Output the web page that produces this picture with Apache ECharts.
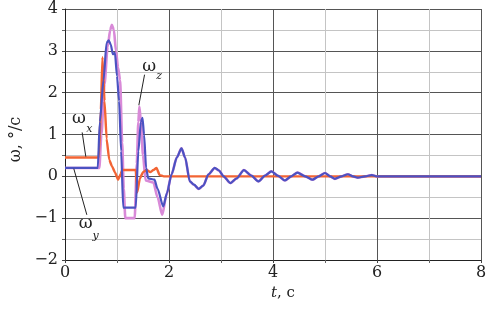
<!DOCTYPE html>
<html><head><meta charset="utf-8">
<script src="https://cdn.jsdelivr.net/npm/echarts@6/dist/echarts.min.js"></script>
<style>html,body{margin:0;padding:0;background:#fff}#c{width:493px;height:309px}</style>
</head><body><div id="c"></div>
<script>
// ---- data ----
const tX = [0, 0.65, 0.69, 0.72, 0.76, 0.8, 0.85, 0.9, 0.96, 1.02, 1.07, 1.1, 1.36, 1.39, 1.44, 1.5, 1.57, 1.64, 1.7, 1.76, 1.82, 1.9, 8];
const vX = [0.45, 0.45, 1.6, 2.85, 1.8, 0.9, 0.4, 0.25, 0.1, -0.08, 0.05, 0.15, 0.15, -0.38, -0.05, 0.1, 0.15, 0.1, 0.15, 0.2, 0.03, 0, 0];

const tY = [0, 0.63, 0.67, 0.74, 0.8, 0.84, 0.88, 0.92, 0.96, 1.0, 1.04, 1.08, 1.12, 1.36, 1.41, 1.46, 1.49, 1.52, 1.56, 1.6, 1.72, 1.78, 1.89, 1.96, 2.05, 2.15, 2.24, 2.31, 2.4, 2.48, 2.57, 2.66, 2.76, 2.88, 2.96, 3.05, 3.18, 3.3, 3.44, 3.58, 3.72, 3.85, 3.97, 4.1, 4.23, 4.35, 4.47, 4.62, 4.76, 4.88, 5.0, 5.1, 5.19, 5.32, 5.44, 5.54, 5.63, 5.77, 5.9, 6.0, 8];
const vY = [0.2, 0.2, 1.3, 2.3, 3.19, 3.25, 3.15, 2.92, 2.95, 2.4, 1.8, 0.6, -0.75, -0.75, 0.6, 1.3, 1.4, 1.0, 0.2, -0.05, -0.08, -0.3, -0.72, -0.4, 0.05, 0.45, 0.67, 0.45, -0.12, -0.2, -0.3, -0.22, 0.05, 0.2, 0.14, 0.0, -0.16, -0.05, 0.15, 0.02, -0.12, 0.02, 0.12, 0.01, -0.1, 0.0, 0.09, 0.0, -0.08, 0.0, 0.08, 0.0, -0.06, 0.0, 0.05, 0.0, -0.03, 0.0, 0.03, 0.0, 0];

const tZ = [0, 0.66, 0.7, 0.76, 0.82, 0.87, 0.9, 0.94, 0.98, 1.02, 1.06, 1.1, 1.13, 1.16, 1.34, 1.38, 1.41, 1.43, 1.46, 1.5, 1.55, 1.7, 1.78, 1.87, 1.95, 2.05, 2.15, 2.24, 2.31, 2.4, 2.48, 2.57, 2.66, 2.76, 2.88, 2.96, 3.05, 3.18, 3.3, 3.44, 3.58, 3.72, 3.85, 3.97, 4.1, 4.23, 4.35, 4.47, 4.62, 4.76, 4.88, 5.0, 5.1, 5.19, 5.32, 5.44, 5.54, 5.63, 5.77, 5.9, 6.0, 8];
const vZ = [0.2, 0.2, 1.0, 2.2, 3.1, 3.5, 3.62, 3.5, 3.0, 2.6, 2.3, 0.8, -0.3, -1.0, -1.0, 0.3, 1.3, 1.67, 1.3, 0.5, -0.1, -0.15, -0.5, -0.92, -0.45, 0.05, 0.45, 0.67, 0.45, -0.12, -0.2, -0.3, -0.22, 0.05, 0.2, 0.14, 0.0, -0.16, -0.05, 0.15, 0.02, -0.12, 0.02, 0.12, 0.01, -0.1, 0.0, 0.09, 0.0, -0.08, 0.0, 0.08, 0.0, -0.06, 0.0, 0.05, 0.0, -0.03, 0.0, 0.03, 0.0, 0];

const xLimits = [0, 8];
const yLimits = [-2, 4];

// annotation anchors (data space): [label ω, subscript, leader start, leader end]
const annots = [
  { sub: 'x', w: [0.27, 1.37], s: [0.47, 1.13], a: [0.33, 1.05], b: [0.40, 0.47] },
  { sub: 'y', w: [0.40, -1.14], s: [0.59, -1.42], a: [0.42, -0.92], b: [0.17, 0.18] },
  { sub: 'z', w: [1.62, 2.62], s: [1.81, 2.40], a: [1.53, 2.43], b: [1.42, 1.70] }
];

const pairs = (t, v) => t.map((x, i) => [x, v[i]]);
const serif = '"DejaVu Serif", "Liberation Serif", serif';

const chart = echarts.init(document.getElementById('c'));
const option = {
  animation: false,
  backgroundColor: '#fff',
  grid: { left: 65, right: 12, top: 9, bottom: 49, containLabel: false, outerBoundsMode: 'none' },
  xAxis: {
    type: 'value', min: xLimits[0], max: xLimits[1], interval: 2,
    axisLine: { show: true, onZero: false, lineStyle: { color: '#222', width: 1 } },
    axisTick: { show: true, length: 3, lineStyle: { color: '#444' } },
    minorTick: { show: true, splitNumber: 2, length: 3, lineStyle: { color: '#666' } },
    splitLine: { show: true, lineStyle: { color: '#555', width: 1 } },
    minorSplitLine: { show: true, lineStyle: { color: '#c4c4c4', width: 1 } },
    axisLabel: { fontFamily: serif, fontSize: 16, color: '#222', margin: 5 },
    name: '{i|t}, c', nameLocation: 'middle', nameGap: 25,
    nameTextStyle: { fontFamily: serif, fontSize: 15, color: '#222', padding: [0, 0, 0, 20],
      rich: { i: { fontFamily: serif, fontStyle: 'italic', fontSize: 15, color: '#222' } } }
  },
  yAxis: {
    type: 'value', min: yLimits[0], max: yLimits[1], interval: 1,
    axisLine: { show: true, onZero: false, lineStyle: { color: '#222', width: 1 } },
    axisTick: { show: true, length: 3, lineStyle: { color: '#444' } },
    minorTick: { show: true, splitNumber: 2, length: 3, lineStyle: { color: '#666' } },
    splitLine: { show: true, lineStyle: { color: '#555', width: 1 } },
    minorSplitLine: { show: true, lineStyle: { color: '#c4c4c4', width: 1 } },
    axisLabel: { fontFamily: serif, fontSize: 16, color: '#222', margin: 7,
      formatter: v => v < 0 ? '\u2212' + Math.abs(v) : String(v) },
    name: 'ω, °/c', nameLocation: 'middle', nameGap: 38, nameRotate: 90,
    nameTextStyle: { fontFamily: serif, fontSize: 16, color: '#222', padding: [0, 10, 0, 0] }
  },
  series: [
    { name: 'ωz', type: 'line', data: pairs(tZ, vZ), showSymbol: false, smooth: 0.25, smoothMonotone: 'x',
      lineStyle: { color: '#d98ad8', width: 2.6 }, z: 2 },
    { name: 'ωx', type: 'line', data: pairs(tX, vX), showSymbol: false, smooth: 0.15, smoothMonotone: 'x',
      lineStyle: { color: '#f26434', width: 2.4 }, z: 3 },
    { name: 'ωy', type: 'line', data: pairs(tY, vY), showSymbol: false, smooth: 0.25, smoothMonotone: 'x',
      lineStyle: { color: '#4b52c2', width: 2.2 }, z: 4 }
  ]
};
chart.setOption(option);

const px = p => chart.convertToPixel({ gridIndex: 0 }, p);
const g = [];
annots.forEach(a => {
  const w = px(a.w), s = px(a.s), p1 = px(a.a), p2 = px(a.b);
  g.push({ type: 'line', shape: { x1: p1[0], y1: p1[1], x2: p2[0], y2: p2[1] },
    style: { stroke: '#222', lineWidth: 1 }, z: 100 });
  g.push({ type: 'text', x: w[0], y: w[1], z: 100,
    style: { text: 'ω', fontFamily: serif, fontSize: 17, fill: '#222', align: 'center', verticalAlign: 'middle' } });
  g.push({ type: 'text', x: s[0], y: s[1], z: 100,
    style: { text: a.sub, fontFamily: serif, fontStyle: 'italic', fontSize: 11, fill: '#222', align: 'center', verticalAlign: 'middle' } });
});
chart.setOption({ graphic: g });
</script></body></html>
